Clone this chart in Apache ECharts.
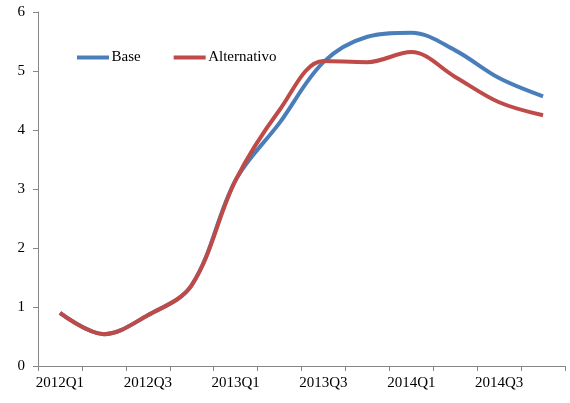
<!DOCTYPE html>
<html><head><meta charset="utf-8">
<script src="https://cdn.jsdelivr.net/npm/echarts@6/dist/echarts.min.js"></script>
<style>html,body{margin:0;padding:0;background:#fff}#c{width:570px;height:403px}</style>
</head><body><div id="c"></div>
<script>
const categories = ['2012Q1','2012Q2','2012Q3','2012Q4','2013Q1','2013Q2','2013Q3','2013Q4','2014Q1','2014Q2','2014Q3','2014Q4'];
const baseValues = [0.9, 0.54, 0.86, 1.37, 3.15, 4.12, 5.15, 5.58, 5.65, 5.35, 4.88, 4.57];
const altValues  = [0.9, 0.54, 0.86, 1.37, 3.15, 4.34, 5.17, 5.15, 5.32, 4.9, 4.47, 4.25];
const yTicks = [0, 1, 2, 3, 4, 5, 6];

const font = '"Liberation Serif", serif';
const axisColor = '#868686';
const chart = echarts.init(document.getElementById('c'));
chart.setOption({
  animation: false,
  grid: {left: 38, right: 5, top: 12, bottom: 37},
  legend: {
    left: 72, top: 45, itemWidth: 33, itemHeight: 4, itemGap: 33,
    icon: 'path://M0,0 L32,0 L32,4 L0,4 Z',
    textStyle: {fontFamily: font, fontSize: 15, color: '#000', padding: [0,0,0,-3]},
    data: ['Base', 'Alternativo']
  },
  xAxis: {
    type: 'category', data: categories, boundaryGap: true,
    axisLine: {lineStyle: {color: axisColor, width: 1}},
    axisTick: {show: true, interval: 0, length: 5, lineStyle: {color: axisColor}},
    axisLabel: {interval: 1, fontFamily: font, fontSize: 15, color: '#000', margin: 10}
  },
  yAxis: {
    type: 'value', min: yTicks[0], max: yTicks[yTicks.length-1], interval: 1,
    splitLine: {show: false},
    axisLine: {show: true, lineStyle: {color: axisColor, width: 1}},
    axisTick: {show: true, length: 5, lineStyle: {color: axisColor}},
    axisLabel: {fontFamily: font, fontSize: 15, color: '#000', margin: 13}
  },
  series: [
    {name: 'Base', type: 'line', data: baseValues, smooth: 0.35, showSymbol: false,
     lineStyle: {width: 4, color: '#4A7EBB'}, itemStyle: {color: '#4A7EBB'}, z: 2},
    {name: 'Alternativo', type: 'line', data: altValues, smooth: 0.35, showSymbol: false,
     lineStyle: {width: 4, color: '#BE4B48'}, itemStyle: {color: '#BE4B48'}, z: 3}
  ]
});
</script></body></html>
